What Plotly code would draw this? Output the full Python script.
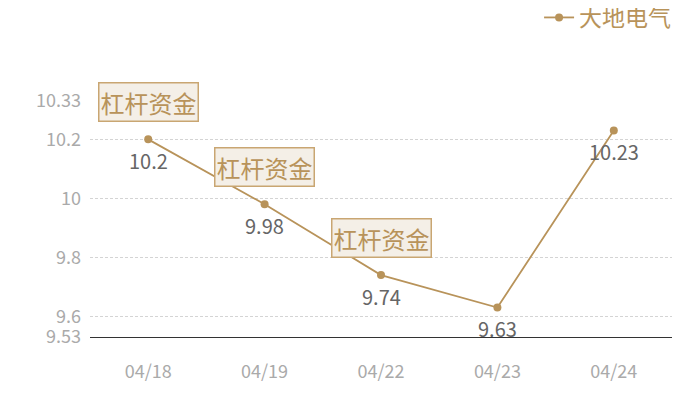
import plotly.graph_objects as go

dates = ["04/18", "04/19", "04/22", "04/23", "04/24"]
prices = [10.2, 9.98, 9.74, 9.63, 10.23]
price_labels = ["10.2", "9.98", "9.74", "9.63", "10.23"]
tag_idx = [0, 1, 2]
tag_text = "杠杆资金"
series_name = "大地电气"
y_ticks = [9.53, 9.6, 9.8, 10, 10.2, 10.33]
y_tick_text = ["9.53", "9.6", "9.8", "10", "10.2", "10.33"]

gold = "#b8935a"
font_family = "Noto Sans CJK SC"

fig = go.Figure()
fig.add_trace(go.Scatter(
    x=dates, y=prices, mode="lines+markers", name=series_name,
    line=dict(color=gold, width=1.8),
    marker=dict(color=gold, size=8),
))

for d, p, t in zip(dates, prices, price_labels):
    fig.add_annotation(
        x=d, y=p, text=t, showarrow=False, yshift=-21,
        font=dict(color="#666666", size=20, family=font_family),
    )

for i in tag_idx:
    fig.add_annotation(
        x=dates[i], y=prices[i], text=tag_text, showarrow=False,
        yshift=37, font=dict(color=gold, size=24, family=font_family),
        bgcolor="#f4efe7", bordercolor="#c9a672", borderwidth=1.5, borderpad=1,
    )

fig.update_layout(
    width=700, height=400,
    margin=dict(l=82, r=36, t=93, b=71, autoexpand=False),
    plot_bgcolor="white", paper_bgcolor="white",
    font=dict(family=font_family),
    showlegend=True,
    legend=dict(x=1.007, y=1.445, xanchor="right", yanchor="top",
                yref="paper", xref="paper", orientation="h",
                font=dict(color=gold, size=23, family=font_family),
                bgcolor="rgba(0,0,0,0)", itemwidth=30),
    xaxis=dict(
        type="category", range=[-0.5, 4.5], showgrid=False,
        tickfont=dict(color="#aaaaaa", size=18, family=font_family),
        showline=True, linecolor="#333333", linewidth=1.2,
        ticks="", ticklabelstandoff=18, automargin=False,
    ),
    yaxis=dict(
        range=[9.53, 10.33], tickvals=y_ticks, ticktext=y_tick_text,
        showgrid=True, gridcolor="#d4d4d4", griddash="3px,2px", gridwidth=1,
        tickfont=dict(color="#aaaaaa", size=18, family=font_family),
        zeroline=False, showline=False, ticks="", ticklabelstandoff=8,
        automargin=False,
    ),
)

fig.write_html("out.html")
